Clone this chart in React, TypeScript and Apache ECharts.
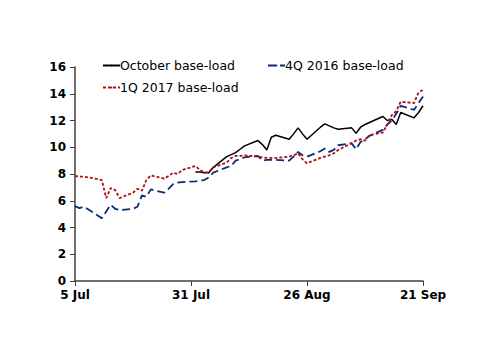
import React, { useEffect, useRef } from "react";
import * as echarts from "echarts";

// Day offsets from 5 Jul (weekdays)
const dayOffsets = [0, 1, 2, 3, 6, 7, 8, 9, 10, 13, 14, 15, 16, 17, 20, 21, 22, 23, 24, 27, 28, 29, 30, 31, 34, 35, 36, 37, 38, 41, 42, 43, 44, 45, 48, 49, 50, 51, 52, 55, 56, 57, 58, 59, 62, 63, 64, 65, 66, 69, 70, 71, 72, 73, 76, 77, 78];

const octoberBase = [null, null, null, null, null, null, null, null, null, null, null, null, null, null, null, null, null, null, null,
  8.15, 8.15, 8.1, 8.1, 8.5, 9.3, 9.45, 9.6, 9.85, 10.1, 10.5, 10.2, 9.8, 10.75, 10.9, 10.6, 11.0, 11.45, 11.0, 10.6,
  11.5, 11.75, 11.6, 11.45, 11.35, 11.45, 11.05, 11.5, 11.7, 11.85, 12.3, 12.0, 12.1, 11.7, 12.6, 12.2, 12.6, 13.1];

const q4Base = [5.6, 5.45, 5.55, 5.35, 4.7, 5.2, 5.7, 5.4, 5.3, 5.4, 5.55, 6.4, 6.3, 6.85, 6.6, 6.9, 7.25, 7.35, 7.4,
  7.45, 7.5, 7.55, 7.75, 8.1, 8.5, 8.6, 9.0, 9.1, 9.25, 9.35, 9.0, 9.05, 9.05, 9.05, 9.0, 9.3, 9.65, 9.4, 9.3,
  9.7, 9.9, 9.65, 9.8, 10.15, 10.3, 9.85, 10.4, 10.6, 10.85, 11.3, 11.7, 12.0, 12.5, 13.1, 12.8, 13.3, 13.8];

const q1Base = [7.85, 7.8, 7.8, 7.75, 7.55, 6.2, 6.95, 6.8, 6.2, 6.6, 6.9, 6.75, 7.55, 7.9, 7.65, 7.85, 8.1, 8.0, 8.3,
  8.6, 8.3, 8.1, 8.15, 8.5, 8.85, 9.2, 9.35, 9.35, 9.4, 9.3, 9.25, 9.2, 9.2, 9.2, 9.3, 9.4, 9.55, 9.1, 8.8,
  9.2, 9.3, 9.4, 9.55, 9.8, 10.3, 10.5, 10.6, 10.5, 10.9, 11.1, 11.7, 12.4, 12.7, 13.4, 13.3, 14.1, 14.3];

const xTickLabels = ["5 Jul", "31 Jul", "26 Aug", "21 Sep"];
const seriesNames = ["October base-load", "4Q 2016 base-load", "1Q 2017 base-load"];

const FONT = "DejaVu Sans";

export default function App() {
  const ref = useRef<HTMLDivElement>(null);
  useEffect(() => {
    if (!ref.current) return;
    const chart = echarts.init(ref.current, null, { renderer: "svg" });
    const pair = (arr: (number | null)[]) => dayOffsets.map((d, i) => [d, arr[i]]);
    const legendText = { fontFamily: FONT, fontSize: 12.5, color: "#000", padding: [0, 0, 0, -5] };
    chart.setOption({
      animation: false,
      backgroundColor: "#fff",
      grid: { left: 75, right: 77, top: 67, bottom: 73, containLabel: false },
      legend: [
        { data: [seriesNames[0]], left: 97, top: 54, itemWidth: 17, itemHeight: 2, textStyle: legendText },
        { data: [seriesNames[1]], left: 262, top: 54, itemWidth: 17, itemHeight: 2, textStyle: legendText },
        { data: [seriesNames[2]], left: 97, top: 76, itemWidth: 17, itemHeight: 2, textStyle: legendText },
      ],
      xAxis: {
        type: "value",
        min: 0,
        max: 78,
        interval: 26,
        splitLine: { show: false },
        axisLine: { show: true, lineStyle: { color: "#404040", width: 1.5 } },
        axisTick: { show: true, length: 5, lineStyle: { color: "#404040" } },
        axisLabel: {
          fontFamily: FONT,
          fontSize: 12,
          fontWeight: "bold",
          color: "#000",
          margin: 8,
          formatter: (v: number) => xTickLabels[Math.round(v / 26)] ?? "",
        },
      },
      yAxis: {
        type: "value",
        min: 0,
        max: 16,
        interval: 2,
        splitLine: { show: false },
        axisLine: { show: true, lineStyle: { color: "#404040", width: 1.5 } },
        axisTick: { show: true, length: 5, lineStyle: { color: "#404040" } },
        axisLabel: { fontFamily: FONT, fontSize: 12, fontWeight: "bold", color: "#000", margin: 9 },
      },
      series: [
        {
          name: seriesNames[0],
          type: "line",
          data: pair(octoberBase),
          showSymbol: false,
          symbol: "none",
          connectNulls: false,
          color: "#000000",
          lineStyle: { color: "#000000", width: 1.5, type: "solid" },
        },
        {
          name: seriesNames[1],
          type: "line",
          data: pair(q4Base),
          showSymbol: false,
          symbol: "none",
          color: "#0B2D7A",
          lineStyle: { color: "#0B2D7A", width: 1.8, type: [8, 4] },
        },
        {
          name: seriesNames[2],
          type: "line",
          data: pair(q1Base),
          showSymbol: false,
          symbol: "none",
          color: "#B01010",
          lineStyle: { color: "#B01010", width: 1.8, type: [3, 2] },
        },
      ],
    });
    return () => chart.dispose();
  }, []);
  return <div ref={ref} style={{ width: 500, height: 354, margin: -8 }} />;
}
